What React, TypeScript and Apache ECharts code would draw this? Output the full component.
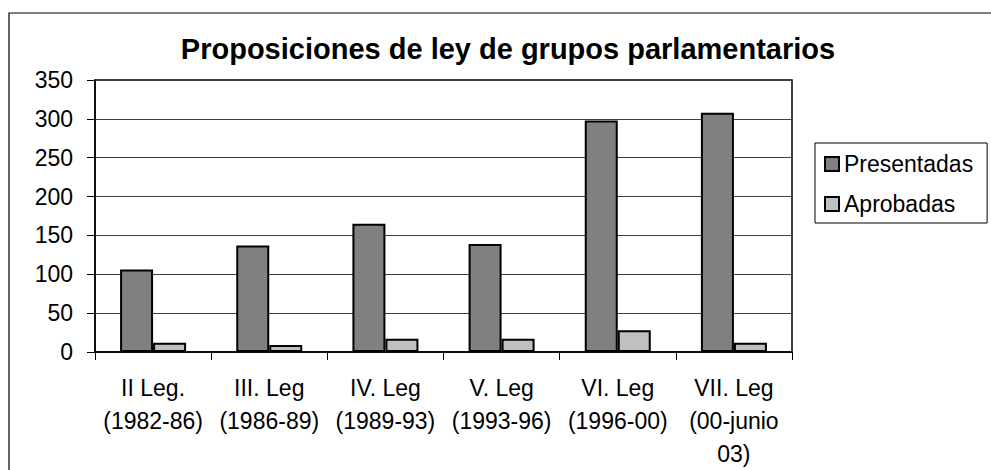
import React, { useEffect, useRef } from "react";
import * as echarts from "echarts";

const titleText = "Proposiciones de ley de grupos parlamentarios";
const categories = [
  "II Leg.\n(1982-86)",
  "III. Leg\n(1986-89)",
  "IV. Leg\n(1989-93)",
  "V. Leg\n(1993-96)",
  "VI. Leg\n(1996-00)",
  "VII. Leg\n(00-junio\n03)",
];
const presentadas = [106, 137, 165, 139, 298, 308];
const aprobadas = [12, 9, 17, 17, 28, 12];
const seriesNames = ["Presentadas", "Aprobadas"];

const FONT = "'Liberation Sans', Arial, sans-serif";

export default function App() {
  const ref = useRef<HTMLDivElement>(null);
  useEffect(() => {
    if (!ref.current) return;
    const chart = echarts.init(ref.current, undefined, { renderer: "svg" });
    chart.setOption({
      animation: false,
      backgroundColor: "#fff",
      textStyle: { fontFamily: FONT, color: "#000" },
      grid: { left: 95, top: 80, right: 199, bottom: 116, show: true, borderColor: "#000", borderWidth: 1.5 },
      graphic: [
        {
          type: "rect",
          z: -1,
          shape: { x: 9, y: 13, width: 1000, height: 500 },
          style: { fill: "none", stroke: "#000", lineWidth: 1.2 },
        },
        {
          type: "text",
          x: 508,
          y: 49,
          style: {
            text: titleText,
            font: `bold 29px ${FONT}`,
            fill: "#000",
            textAlign: "center",
            textVerticalAlign: "middle",
          },
        },
      ],
      legend: {
        data: seriesNames,
        orient: "vertical",
        left: 815,
        top: 143,
        padding: [8, 14, 6, 9],
        itemGap: 14,
        itemWidth: 14,
        itemHeight: 14,
        icon: "rect",
        borderColor: "#000",
        borderWidth: 1,
        textStyle: { fontFamily: FONT, fontSize: 23, color: "#000", lineHeight: 26, padding: [0, 0, 0, 0] },
      },
      xAxis: {
        type: "category",
        data: categories,
        axisLine: { lineStyle: { color: "#000", width: 1.5 } },
        axisTick: { show: true, alignWithLabel: false, length: 8, lineStyle: { color: "#000" } },
        axisLabel: { fontFamily: FONT, fontSize: 23, color: "#000", lineHeight: 33, margin: 19, interval: 0 },
      },
      yAxis: {
        type: "value",
        min: 0,
        max: 350,
        interval: 50,
        axisLine: { show: true, lineStyle: { color: "#000", width: 1.5 } },
        axisTick: { show: true, length: 8, lineStyle: { color: "#000" } },
        axisLabel: { fontFamily: FONT, fontSize: 23, color: "#000", margin: 22 },
        splitLine: { show: true, lineStyle: { color: "#404040", width: 1 } },
      },
      series: [
        {
          name: seriesNames[0],
          type: "bar",
          data: presentadas,
          barWidth: 33,
          barGap: "0%",
          itemStyle: { color: "#808080", borderColor: "#000", borderWidth: 2 },
        },
        {
          name: seriesNames[1],
          type: "bar",
          data: aprobadas,
          barWidth: 33,
          barGap: "0%",
          itemStyle: { color: "#C0C0C0", borderColor: "#000", borderWidth: 2 },
        },
      ],
    });
    return () => chart.dispose();
  }, []);
  return (
    <div
      ref={ref}
      style={{ position: "fixed", left: 0, top: 0, width: 991, height: 470, background: "#fff" }}
    />
  );
}
